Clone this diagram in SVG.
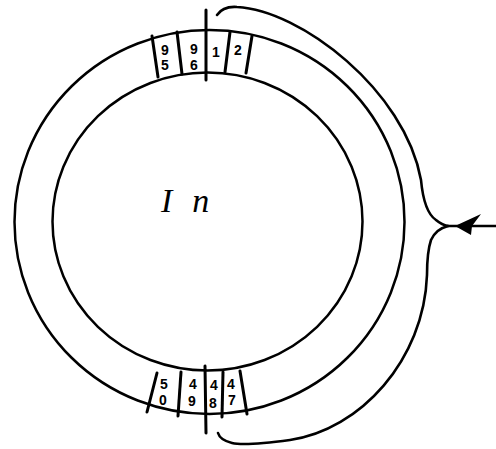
<svg xmlns="http://www.w3.org/2000/svg" width="496" height="449" viewBox="0 0 496 449">
<style>
.ring{fill:none;stroke:#000;stroke-width:2.5}
.div{stroke:#000;stroke-width:3;fill:none;stroke-linecap:round}
.conn{fill:none;stroke:#000;stroke-width:2.6;stroke-linecap:round;stroke-linejoin:round}
.dig{font-family:"Liberation Sans",Arial,sans-serif;font-size:14px;fill:#000;text-anchor:middle;font-weight:bold}
.lbl{font-family:"Liberation Serif","Times New Roman",serif;font-style:italic;font-size:34px;fill:#000}
</style>
<rect width="496" height="449" fill="#fff"/>
<g id="ring">
<ellipse class="ring" cx="209.5" cy="222" rx="195" ry="192"/>
<ellipse class="ring" cx="207.5" cy="221.5" rx="155" ry="149"/>
</g>
<g id="label-in">
<text class="lbl" x="161" y="212" letter-spacing="20">In</text>
</g>
<g id="top-cells">
<line class="div" x1="152" y1="36" x2="158" y2="77"/>
<line class="div" x1="177" y1="32" x2="182" y2="74"/>
<line class="div" x1="230" y1="32" x2="225" y2="72"/>
<line class="div" x1="252" y1="36" x2="246" y2="73"/>
<line class="div" x1="206" y1="10" x2="206" y2="80"/>
<text class="dig" x="165" y="55">9</text>
<text class="dig" x="165" y="70">5</text>
<text class="dig" x="194" y="54">9</text>
<text class="dig" x="194" y="70">6</text>
<text class="dig" x="216" y="57">1</text>
<text class="dig" x="238" y="55">2</text>
</g>
<g id="bottom-cells">
<line class="div" x1="157" y1="373" x2="147" y2="412"/>
<line class="div" x1="181" y1="372" x2="178" y2="416"/>
<line class="div" x1="223" y1="372" x2="222" y2="417"/>
<line class="div" x1="240" y1="371" x2="247" y2="414"/>
<line class="div" x1="205" y1="366" x2="206" y2="433"/>
<text class="dig" x="164" y="389">5</text>
<text class="dig" x="163" y="405">0</text>
<text class="dig" x="193" y="389">4</text>
<text class="dig" x="192" y="406">9</text>
<text class="dig" x="214" y="390">4</text>
<text class="dig" x="213" y="408">8</text>
<text class="dig" x="231" y="389">4</text>
<text class="dig" x="232" y="405">7</text>
</g>
<g id="connectors">
<path class="conn" d="M217,15 Q223,6 237,7 C300,10 405,90 421,180 Q424,212 436,220 Q442,225 448,226"/>
<path class="conn" d="M448,226 Q436,229 431,240 Q427,252 427,275 C424,360 360,430 290,440 Q245,446 232,443 Q220,440 218,433"/>
<line class="conn" x1="496" y1="226" x2="448" y2="226"/>
<path d="M455,226 L481,214 L472,226 L471,235 Z" fill="#000"/>
</g>
</svg>
